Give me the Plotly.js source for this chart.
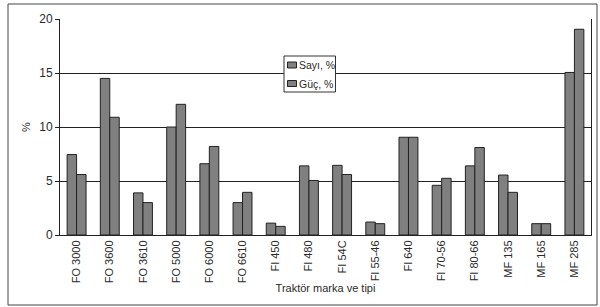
<!DOCTYPE html>
<html>
<head>
<meta charset="utf-8">
<script src="https://cdn.plot.ly/plotly-3.0.1.min.js"></script>
<style>
html,body{margin:0;padding:0;background:#fff;}
#chart{width:600px;height:307px;}
</style>
</head>
<body>
<div id="chart"></div>
<script>
const categories = ["FO 3000","FO 3600","FO 3610","FO 5000","FO 6000","FO 6610","FI 450","FI 480","FI 54C","FI 55-46","FI 640","FI 70-56","FI 80-66","MF 135","MF 165","MF 285"];
const sayi = [7.45, 14.5, 3.9, 10.0, 6.6, 3.0, 1.1, 6.4, 6.45, 1.2, 9.05, 4.6, 6.4, 5.55, 1.05, 15.05];
const guc  = [5.6, 10.9, 3.0, 12.1, 8.2, 3.95, 0.8, 5.05, 5.6, 1.05, 9.05, 5.25, 8.1, 3.95, 1.05, 19.05];
const seriesNames = ["Sayı, %", "Güç, %"];
const yTicks = [0, 5, 10, 15, 20];

const fnt = "Liberation Sans, Arial, sans-serif";
const txtCol = "#2a2a2a";
const barFill = "#808080";
const barLine = "#222222";

const M = {l: 60, r: 9, t: 19, b: 72};
const W = 600, H = 307;
const pw = W - M.l - M.r, ph = H - M.t - M.b;
const px = x => (x - M.l) / pw;
const py = y => (H - M.b - y) / ph;

const data = [
  {type: "bar", name: seriesNames[0], x: categories, y: sayi, marker: {color: barFill, line: {color: barLine, width: 1}}},
  {type: "bar", name: seriesNames[1], x: categories, y: guc, marker: {color: barFill, line: {color: barLine, width: 1}}}
];

// compact legend (Excel style)
const shapes = [
  {type: "rect", xref: "paper", yref: "paper", x0: px(8), x1: px(597), y0: py(305), y1: py(4),
   line: {color: "#444", width: 1}, fillcolor: "rgba(0,0,0,0)"},
  {type: "rect", xref: "paper", yref: "paper", x0: px(284), x1: px(335.5), y0: py(92), y1: py(56),
   line: {color: "#333", width: 1}, fillcolor: "#fff", layer: "above"}
];
const annotations = [];
seriesNames.forEach((nm, i) => {
  const cy = 65 + i * 18.5;
  shapes.push({type: "rect", xref: "paper", yref: "paper", x0: px(287.5), x1: px(296.5), y0: py(cy + 3), y1: py(cy - 3),
    line: {color: barLine, width: 1}, fillcolor: barFill, layer: "above"});
  annotations.push({xref: "paper", yref: "paper", x: px(297), y: py(cy), xanchor: "left", yanchor: "middle",
    text: nm, showarrow: false, font: {family: fnt, size: 10.5, color: txtCol}});
});

const layout = {
  width: W, height: H,
  margin: M,
  paper_bgcolor: "#fff", plot_bgcolor: "#fff",
  barmode: "group", bargap: 0.43, bargroupgap: 0,
  showlegend: false,
  xaxis: {
    type: "category", tickangle: -90,
    tickfont: {family: fnt, size: 11, color: txtCol},
    showline: true, linecolor: "#222", linewidth: 1,
    ticks: "", showgrid: false,
    title: {text: "Traktör marka ve tipi", font: {family: fnt, size: 11, color: txtCol}, standoff: 2}
  },
  yaxis: {
    range: [0, 20], tickvals: yTicks, ticktext: yTicks.map(String),
    tickfont: {family: fnt, size: 12, color: txtCol},
    showline: true, mirror: true, linecolor: "#222", linewidth: 1,
    ticks: "outside", ticklen: 4, tickcolor: "#222",
    showgrid: true, gridcolor: "#222", gridwidth: 1,
    zeroline: false,
    title: {text: "%", font: {family: fnt, size: 11, color: txtCol}, standoff: 6}
  },
  shapes: shapes,
  annotations: annotations
};

Plotly.newPlot("chart", data, layout, {displayModeBar: false, staticPlot: true});
</script>
</body>
</html>
